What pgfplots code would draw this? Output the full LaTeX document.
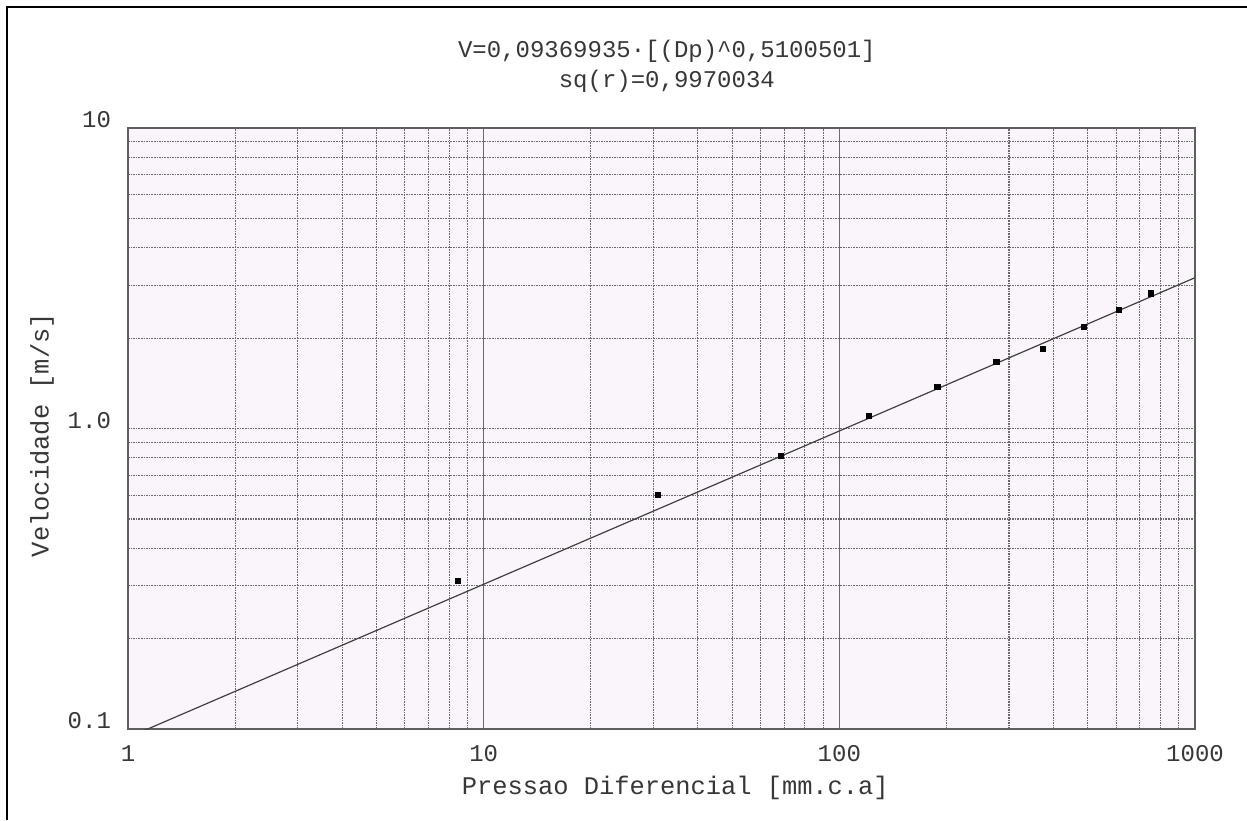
\documentclass[border=0pt]{standalone}
\usepackage{fontspec}
\setmainfont{Liberation Mono}
\usepackage{pgfplots}
\pgfplotsset{compat=1.18}
\definecolor{bgpink}{RGB}{250,245,250}
\definecolor{gridgray}{RGB}{105,105,105}
\definecolor{txtgray}{RGB}{55,55,55}
\definecolor{framegray}{RGB}{95,95,95}

\begin{document}
\begin{tikzpicture}
\path[use as bounding box] (0,0) rectangle (623.5pt,-410pt);
% outer frame (only top and left edges are visible)
\draw[black, line width=1pt] (3.35pt,-410pt) -- (3.35pt,-3.35pt) -- (623.5pt,-3.35pt);

\begin{axis}[
    at={(64pt,-364.5pt)}, anchor=south west,
    scale only axis,
    width=533.5pt, height=300.5pt,
    xmode=log, ymode=log,
    xmin=1, xmax=1000, ymin=0.1, ymax=10,
    xtick={1,10,100,1000}, xticklabels={1,10,100,1000},
    ytick={0.1,1,10}, yticklabels={0.1,1.0,10},
    major tick length=0pt, minor tick length=0pt,
    grid=both,
    major x grid style={gridgray, line width=0.55pt},
    major y grid style={gridgray, line width=0.55pt, dash pattern=on 0.8pt off 0.5pt},
    minor grid style={gridgray, line width=0.55pt, dash pattern=on 0.8pt off 0.5pt},
    axis line style={framegray, line width=0.6pt},
    axis background/.style={fill=bgpink},
    tick label style={font=\fontsize{12}{14}\selectfont, text=txtgray},
    xticklabel style={anchor=center, yshift=-12.5pt},
    yticklabel style={anchor=east, xshift=-5pt, yshift=4pt},
    label style={font=\fontsize{12.7}{14}\selectfont, text=txtgray},
    xlabel={Pressao Diferencial [mm.c.a]},
    xlabel style={at={(axis description cs:0.513,0)}, anchor=center, yshift=-29.5pt},
    ylabel={Velocidade [m/s]},
    ylabel style={at={(axis description cs:-0.0806,0.489)}, anchor=center},
    title={V=0,09369935·[(Dp)\textasciicircum0,5100501]\\sq(r)=0,9970034},
    title style={font=\fontsize{12}{15}\selectfont, text=txtgray, align=center,
                 at={(axis description cs:0.505,1)}, anchor=center, yshift=25pt},
]

% fitted power law V = 0.09369935*Dp^0.5100501
\addplot[draw=black!75, line width=0.6pt] coordinates {
(1,0.09369935)
(1000,3.1760)
};

% measured points
\addplot[only marks, mark=square*, mark size=1.4pt, mark options={black, fill=black}] coordinates {
(8.47,0.311)
(30.9,0.601)
(68.5,0.810)
(121,1.10)
(189,1.374)
(276,1.665)
(374,1.84)
(487,2.18)
(611,2.48)
(751,2.82)
};

\end{axis}
\end{tikzpicture}
\end{document}
